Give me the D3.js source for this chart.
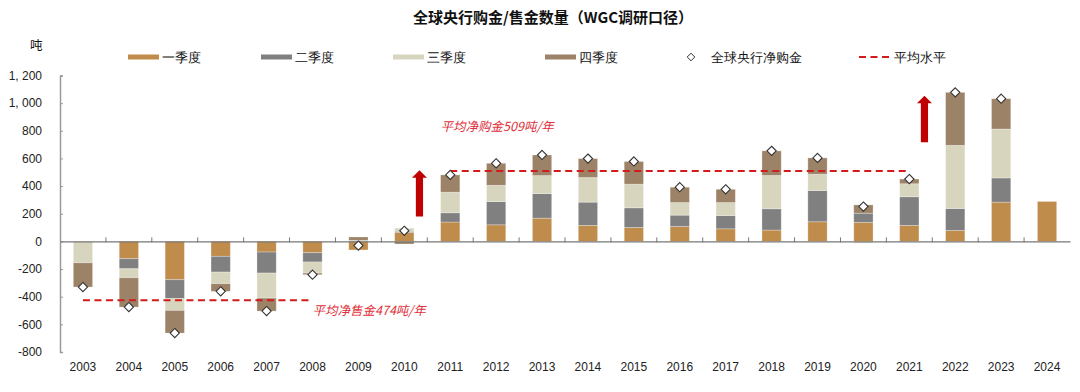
<!DOCTYPE html>
<html><head><meta charset="utf-8">
<script src="https://cdn.jsdelivr.net/npm/d3@7"></script>
<style>
html,body{margin:0;padding:0;background:#fff;}
svg{display:block;}
text{font-family:"Liberation Sans",Arial,sans-serif;}
.cn{font-family:"Noto Sans CJK SC","Noto Sans",sans-serif;}
</style></head>
<body>
<svg id="chart" width="1080" height="392"></svg>
<script>
const years = ["2003","2004","2005","2006","2007","2008","2009","2010","2011","2012","2013","2014","2015","2016","2017","2018","2019","2020","2021","2022","2023","2024"];
const q1 = [0,-125,-277,-108,-77,-82,-62,65,140,120,168,116,101,108,91,82,142,137,116,79,284,289];
const q2 = [0,-73,-137,-114,-152,-67,5,8,67,168,178,168,142,82,96,154,226,67,207,159,175,0];
const q3 = [-155,-65,-85,-84,-181,-80,3,23,149,118,130,178,171,91,94,241,118,-12,94,457,354,0];
const q4 = [-175,-212,-164,-55,-94,-12,24,-19,125,159,149,137,164,111,96,178,118,60,34,383,219,0];
const net = [-330,-475,-663,-361,-504,-241,-30,77,481,565,625,599,578,392,377,655,604,252,451,1078,1032,null];
const seriesNames = ["一季度","二季度","三季度","四季度"];
const yTicks = [-800,-600,-400,-200,0,200,400,600,800,1000,1200];
const avgSell = {value:-425, from:"2003", to:"2008", label:"平均净售金474吨/年"};
const avgBuy = {value:510, from:"2011", to:"2021", label:"平均净购金509吨/年"};
const arrows = [{year:"2010", from:180, to:515},{year:"2021", from:718, to:1053}];

const colors = ["#C08C4B","#808080","#D8D5BE","#9C8266"];
const svg = d3.select("#chart");
const x = d3.scaleBand().domain(years).range([60,1070]).paddingInner(0.58).paddingOuter(0.29);
const y = d3.scaleLinear().domain([-800,1200]).range([352,75.5]);

const rows = years.map((yr,i)=>({year:yr, a:q1[i], b:q2[i], c:q3[i], d:q4[i]}));
const stack = d3.stack().keys(["a","b","c","d"]).offset(d3.stackOffsetDiverging);
const layers = stack(rows);

// bars
svg.append("g").selectAll("g").data(layers).join("g")
  .attr("fill",(d,i)=>colors[i])
  .selectAll("rect").data(d=>d).join("rect")
  .attr("x",d=>x(d.data.year))
  .attr("width",x.bandwidth())
  .attr("y",d=>y(Math.max(d[0],d[1])))
  .attr("height",d=>Math.abs(y(d[0])-y(d[1])))
  .attr("stroke","rgba(255,255,255,0.35)").attr("stroke-width",0.8);

// y axis
const yAxis = d3.axisLeft(y).tickValues(yTicks).tickSize(-3).tickPadding(18)
  .tickFormat(d=> d3.format(",")(d).replace(",",", ").replace("−","-"));
const gy = svg.append("g").attr("transform","translate(60,0)").call(yAxis);
gy.select(".domain").attr("stroke","#9a9a9a").attr("stroke-width",1.5);
gy.selectAll(".tick line").attr("stroke","#9a9a9a");
gy.selectAll("text").attr("font-size",12).attr("fill","#222");

// x axis
const gx = svg.append("g").attr("transform",`translate(0,${y(0)})`)
  .call(d3.axisBottom(x).tickSize(0).tickFormat(""));
gx.select(".domain").attr("stroke","#777").attr("stroke-width",1.3);
const bounds = years.slice(1).map(yr=>x(yr) - x.step()*x.paddingInner()/2);
svg.append("g").selectAll("line").data(bounds).join("line")
  .attr("x1",d=>d).attr("x2",d=>d).attr("y1",y(0)-4).attr("y2",y(0)+1)
  .attr("stroke","#777").attr("stroke-width",1);
svg.append("g").selectAll("text").data(years).join("text")
  .attr("x",d=>x(d)+x.bandwidth()/2).attr("y",371)
  .attr("text-anchor","middle").attr("font-size",12).attr("fill","#222").text(d=>d);

// average lines
[avgSell,avgBuy].forEach(a=>{
  svg.append("line")
    .attr("x1",x(a.from)+x.bandwidth()/2).attr("x2",x(a.to)+x.bandwidth()/2)
    .attr("y1",y(a.value)).attr("y2",y(a.value))
    .attr("stroke","#D41A1A").attr("stroke-width",2).attr("stroke-dasharray","7,4.5");
});
svg.append("text").attr("class","cn").attr("x",x(avgSell.to)+x.bandwidth()/2).attr("y",y(avgSell.value)+15)
  .attr("font-size",12.5).attr("font-style","italic").attr("fill","#E0303A").text(avgSell.label);
svg.append("text").attr("class","cn").attr("x",x(avgBuy.from)).attr("y",y(avgBuy.value)-40)
  .attr("font-size",12.5).attr("font-style","italic").attr("fill","#E0303A").text(avgBuy.label);

// arrows
arrows.forEach(a=>{
  const cx = x(a.year)+x.bandwidth()+5.5;
  const yt = y(a.to), yb = y(a.from), hh = 7.5, hw = 7.5, sw = 3.6;
  const p = d3.path();
  p.moveTo(cx, yt); p.lineTo(cx+hw, yt+hh); p.lineTo(cx+sw, yt+hh); p.lineTo(cx+sw, yb);
  p.lineTo(cx-sw, yb); p.lineTo(cx-sw, yt+hh); p.lineTo(cx-hw, yt+hh); p.closePath();
  svg.append("path").attr("d",p.toString()).attr("fill","#C00000");
});

// net diamonds
const dg = svg.append("g");
years.forEach((yr,i)=>{
  if(net[i]==null) return;
  const cx = x(yr)+x.bandwidth()/2, cy = y(net[i]), r=4.6;
  dg.append("path").attr("d",`M${cx},${cy-r}L${cx+r},${cy}L${cx},${cy+r}L${cx-r},${cy}Z`)
    .attr("fill","#fff").attr("stroke","#333").attr("stroke-width",1.1);
});

// title
svg.append("text").attr("class","cn").attr("x",553).attr("y",23).attr("text-anchor","middle")
  .attr("font-size",15).attr("font-weight","bold").attr("fill","#111").text("全球央行购金/售金数量（WGC调研口径）");
svg.append("text").attr("class","cn").attr("x",30).attr("y",50).attr("font-size",12.5).attr("fill","#111").text("吨");

// legend
const lg = svg.append("g").attr("class","cn");
const swX = [128,261,393,545];
seriesNames.forEach((n,i)=>{
  lg.append("rect").attr("x",swX[i]).attr("y",54.5).attr("width",31).attr("height",5).attr("fill",colors[i]);
  lg.append("text").attr("x",swX[i]+34).attr("y",62).attr("font-size",13).attr("fill","#111").text(n);
});
{
  const cx=691, cy=57, r=3.8;
  lg.append("path").attr("d",`M${cx},${cy-r}L${cx+r},${cy}L${cx},${cy+r}L${cx-r},${cy}Z`)
    .attr("fill","#fff").attr("stroke","#333").attr("stroke-width",1);
  lg.append("text").attr("x",711).attr("y",62).attr("font-size",13).attr("fill","#111").text("全球央行净购金");
  lg.append("line").attr("x1",859).attr("x2",892).attr("y1",57).attr("y2",57)
    .attr("stroke","#D41A1A").attr("stroke-width",2).attr("stroke-dasharray","7,4.5");
  lg.append("text").attr("x",894).attr("y",62).attr("font-size",13).attr("fill","#111").text("平均水平");
}
</script>
</body></html>
